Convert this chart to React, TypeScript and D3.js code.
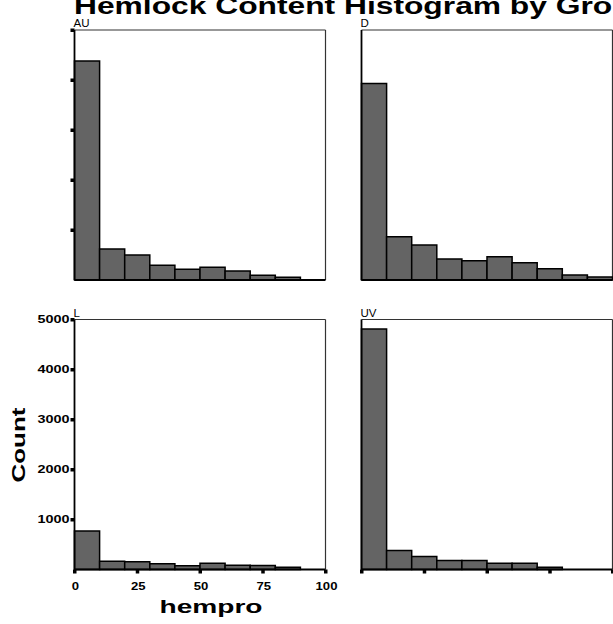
import { useMemo } from 'react';
import * as d3 from 'd3';

// hempro bins (width 10) and counts
const BIN_STARTS = [0, 10, 20, 30, 40, 50, 60, 70, 80, 90];
const AU_COUNTS = [4380, 620, 500, 295, 215, 255, 180, 95, 55, 0];
const D_COUNTS = [3930, 865, 700, 420, 385, 465, 345, 225, 100, 60];
const L_COUNTS = [770, 165, 155, 115, 75, 125, 85, 80, 45, 0];
const UV_COUNTS = [4810, 380, 260, 180, 180, 125, 125, 45, 0, 0];

const Y_TICKS = [1000, 2000, 3000, 4000, 5000];
const X_TICKS = [0, 25, 50, 75, 100];

const TITLE = 'Hemlock Content Histogram by Group';

const PANEL_W = 251;
const PANEL_H = 250;
const BAR_FILL = '#646464';

type PanelProps = {
  name: string;
  counts: number[];
  left: number;
  top: number;
  leftTicks?: boolean;
  bottomTicks?: boolean;
  labels?: boolean;
};

const Panel = ({ name, counts, left, top, leftTicks, bottomTicks, labels }: PanelProps) => {
  const xScale = useMemo(() => d3.scaleLinear().domain([0, 100]).range([0, PANEL_W]), []);
  const yScale = useMemo(() => d3.scaleLinear().domain([0, 5000]).range([PANEL_H, 0]), []);

  const bars = BIN_STARTS.map((b, i) => {
    if (!counts[i]) return null;
    const x0 = xScale(b);
    const x1 = xScale(b + 10);
    const y = yScale(counts[i]);
    return (
      <rect
        key={i}
        x={x0}
        y={y}
        width={x1 - x0}
        height={PANEL_H - y}
        fill={BAR_FILL}
        stroke="#000"
        strokeWidth={1.5}
      />
    );
  });

  return (
    <g transform={`translate(${left},${top})`}>
      {/* frame: top + right thin, left + bottom axis heavier */}
      <line x1={0} x2={PANEL_W} y1={0} y2={0} stroke="#333" strokeWidth={1.2} />
      <line x1={PANEL_W} x2={PANEL_W} y1={0} y2={PANEL_H} stroke="#333" strokeWidth={1.2} />
      {bars}
      <line x1={0} x2={0} y1={0} y2={PANEL_H} stroke="#000" strokeWidth={1.8} />
      <line x1={0} x2={PANEL_W} y1={PANEL_H} y2={PANEL_H} stroke="#000" strokeWidth={1.8} />

      <text x={-1} y={-3} fontSize={11.5} fill="#000">
        {name}
      </text>

      {leftTicks &&
        Y_TICKS.map((t) => (
          <g key={t}>
            <rect x={-4} y={yScale(t) - 1.5} width={4} height={3.5} fill="#000" />
            {labels && (
              <text
                x={-5}
                y={yScale(t) + 3.8}
                textAnchor="end"
                fontSize={10}
                fontWeight="bold"
                textLength={32}
                lengthAdjust="spacingAndGlyphs"
              >
                {t}
              </text>
            )}
          </g>
        ))}

      {bottomTicks &&
        X_TICKS.map((t) => (
          <g key={t}>
            <rect x={xScale(t) - 1.5} y={PANEL_H} width={3.5} height={4} fill="#000" />
            {labels && (
              <text
                x={xScale(t) + 1}
                y={PANEL_H + 20}
                textAnchor="middle"
                fontSize={10.5}
                fontWeight="bold"
                textLength={String(t).length * 7.3}
                lengthAdjust="spacingAndGlyphs"
              >
                {t}
              </text>
            )}
          </g>
        ))}
    </g>
  );
};

export default function App() {
  const width = 613,
    height = 624;

  return (
    <svg
      width={width}
      height={height}
      style={{ position: 'absolute', left: 0, top: 0, background: '#fff' }}
      fontFamily="'Liberation Sans', Arial, sans-serif"
    >
      <text
        x={74}
        y={14}
        fontSize={23}
        fontWeight="bold"
        textLength={577}
        lengthAdjust="spacingAndGlyphs"
      >
        {TITLE}
      </text>

      <Panel name="AU" counts={AU_COUNTS} left={74.5} top={30} leftTicks />
      <Panel name="D" counts={D_COUNTS} left={361.5} top={30} />
      <Panel name="L" counts={L_COUNTS} left={74.5} top={319.5} leftTicks bottomTicks labels />
      <Panel name="UV" counts={UV_COUNTS} left={361.5} top={319.5} bottomTicks />

      <text
        transform="translate(25,445) rotate(-90)"
        textAnchor="middle"
        fontSize={18}
        fontWeight="bold"
        textLength={75}
        lengthAdjust="spacingAndGlyphs"
      >
        Count
      </text>
      <text
        x={211}
        y={613}
        textAnchor="middle"
        fontSize={18}
        fontWeight="bold"
        textLength={103}
        lengthAdjust="spacingAndGlyphs"
      >
        hempro
      </text>
    </svg>
  );
}
